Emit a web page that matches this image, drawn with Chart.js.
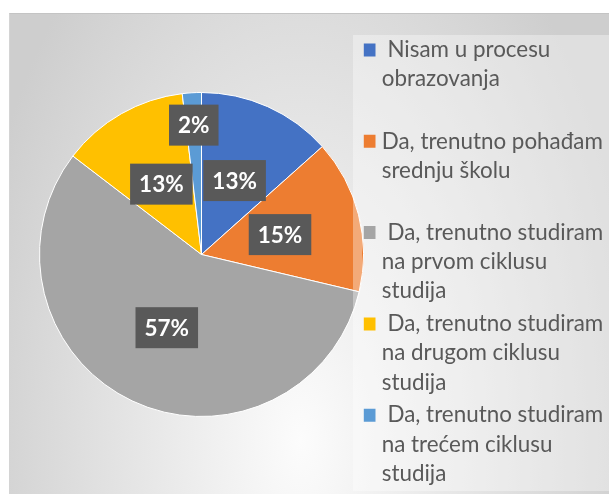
<!DOCTYPE html>
<html>
<head>
<meta charset="utf-8">
<script src="https://cdn.jsdelivr.net/npm/chart.js@4.4.1/dist/chart.umd.min.js"></script>
<style>
html, body { margin: 0; padding: 0; width: 609px; height: 494px; overflow: hidden; background: #ffffff; }
#frame { position: absolute; left: 9px; top: 13px; width: 620px; height: 500px; box-sizing: border-box;
  border-top: 1px solid #c4c4c4; border-left: 1px solid #d4d4d4;
  background: radial-gradient(ellipse 340px 620px at 291px 427px, #fcfcfc 0%, #cecece 100%); }
#panel { position: absolute; left: 353px; top: 35px; width: 270px; height: 456px; background: rgba(255,255,255,0.35); }
#c { position: absolute; left: 0; top: 0; }
</style>
</head>
<body>
<div id="frame"></div>
<div id="panel"></div>
<canvas id="c" width="609" height="500"></canvas>
<script>
// ---- data ----
const categories = [
  [' Nisam u procesu', 'obrazovanja'],
  ['Da, trenutno pohađam', 'srednju školu'],
  [' Da, trenutno studiram', 'na prvom ciklusu', 'studija'],
  [' Da, trenutno studiram', 'na drugom ciklusu', 'studija'],
  [' Da, trenutno studiram', 'na trećem ciklusu', 'studija']
];
const values = [13.4, 15.3, 56.7, 12.7, 1.9];
const colors = ['#4472C4', '#ED7D31', '#A5A5A5', '#FFC000', '#5B9BD5'];

const total = values.reduce((a, b) => a + b, 0);
const pctLabels = values.map(v => Math.round(v / total * 100) + '%');
// every legend entry takes three lines in the reference
const legendLabels = categories.map(l => l.concat(Array(Math.max(0, 3 - l.length)).fill('')));

const TARGET_RIGHT = 363.8;   // pie area right edge / legend left
const TARGET_CY = 254.5;      // pie centre y

const sliceLabels = {
  id: 'sliceLabels',
  afterDatasetsDraw(chart) {
    const ctx = chart.ctx;
    const meta = chart.getDatasetMeta(0);
    const a0 = meta.data[0].getProps(['x', 'y', 'outerRadius'], true);
    // legend panel's translucent fill over the pie's right edge
    ctx.save();
    ctx.beginPath();
    ctx.arc(a0.x, a0.y, a0.outerRadius + 1, 0, Math.PI * 2);
    ctx.clip();
    ctx.fillStyle = 'rgba(255,255,255,0.35)';
    ctx.fillRect(353, 35, 9, 456);
    ctx.restore();

    ctx.save();
    ctx.font = 'bold 22.5px Lato';
    ctx.textAlign = 'center';
    ctx.textBaseline = 'middle';
    meta.data.forEach((arc, i) => {
      const p = arc.getProps(['x', 'y', 'startAngle', 'endAngle', 'outerRadius'], true);
      const mid = (p.startAngle + p.endAngle) / 2;
      const frac = (p.endAngle - p.startAngle) < 0.35 ? 0.8 : 0.5;
      const lx = p.x + Math.cos(mid) * p.outerRadius * frac;
      const ly = p.y + Math.sin(mid) * p.outerRadius * frac;
      const txt = pctLabels[i];
      const w = ctx.measureText(txt).width + 18;
      const h = 41;
      ctx.fillStyle = '#595959';
      ctx.fillRect(lx - w / 2, ly - h / 2, w, h);
      ctx.fillStyle = '#ffffff';
      ctx.fillText(txt, lx, ly + 1);
    });
    ctx.restore();
  }
};

const cfg = {
  type: 'pie',
  data: {
    labels: legendLabels,
    datasets: [{
      data: values,
      backgroundColor: colors,
      borderColor: '#ffffff',
      borderWidth: 1,
      radius: 162
    }]
  },
  options: {
    responsive: false,
    animation: false,
    events: [],
    layout: { padding: { top: 35.1, left: 39.2, right: 0, bottom: 0 } },
    plugins: {
      tooltip: { enabled: false },
      title: {
        display: true, position: 'bottom', text: '',
        padding: { top: 0, bottom: 24.8 },
        font: { size: 1, lineHeight: '1px' }
      },
      legend: {
        position: 'right',
        align: 'start',
        maxWidth: 609 - TARGET_RIGHT,
        labels: {
          usePointStyle: true,
          pointStyle: 'rect',
          boxWidth: 3,
          boxHeight: 13,
          padding: 3.7,
          color: '#595959',
          font: { family: 'Lato', size: 22.4, lineHeight: '29.2px' },
          generateLabels(chart) {
            const base = (Chart.overrides.pie || Chart.overrides.doughnut).plugins.legend.labels.generateLabels;
            const items = base(chart);
            items.forEach(it => { it.lineWidth = 0; });
            return items;
          }
        }
      }
    }
  },
  plugins: [sliceLabels]
};

const chart = new Chart(document.getElementById('c'), cfg);
const ca = chart.chartArea;
const dxr = ca.right - TARGET_RIGHT;
const dyc = (ca.top + ca.bottom) / 2 - TARGET_CY;
if (Math.abs(dxr) > 0.05 || Math.abs(dyc) > 0.05) {
  cfg.options.layout.padding.right += dxr;
  cfg.options.plugins.title.padding.bottom += 2 * dyc;
  chart.update('none');
}
</script>
</body>
</html>
